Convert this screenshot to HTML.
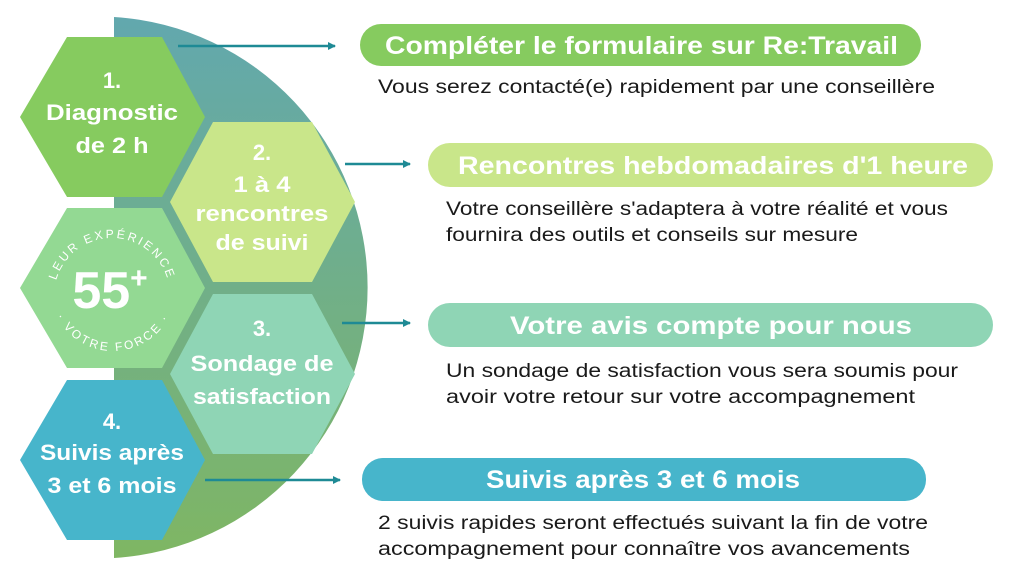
<!DOCTYPE html>
<html><head><meta charset="utf-8"><style>
html,body{margin:0;padding:0;background:#fff;}
svg{display:block;}
text{font-family:"Liberation Sans",sans-serif;}
</style></head><body>
<svg width="1024" height="576" viewBox="0 0 1024 576" xmlns="http://www.w3.org/2000/svg">
<defs>
<linearGradient id="g" x1="0" y1="0" x2="0" y2="1">
<stop offset="0" stop-color="#62a8ae"/><stop offset="1" stop-color="#7fb663"/>
</linearGradient>
<marker id="ah" markerWidth="8" markerHeight="8" refX="7" refY="4" orient="auto" markerUnits="userSpaceOnUse">
<path d="M0,0 L8,4 L0,8 z" fill="#1e8a95"/></marker>
<path id="arcTop" d="M 54,296 A 58,58 0 0 1 170,296"/>
<path id="arcBot" d="M 50,288 A 63,63 0 0 0 176,288"/>
</defs>
<path d="M114,17 A270,271 0 0 1 114,558 Z" fill="url(#g)"/>
<polygon points="20,117 67,37 162,37 205,117 162,197 67,197" fill="#86cb5f"/>
<polygon points="170,202 213,122 312,122 355,202 312,282 213,282" fill="#c9e68a"/>
<polygon points="20,288 67,208 162,208 205,288 162,368 67,368" fill="#93d993"/>
<polygon points="170,374 213,294 312,294 355,374 312,454 213,454" fill="#8fd5b5"/>
<polygon points="20,460 67,380 162,380 205,460 162,540 67,540" fill="#47b5cb"/>
<g fill="#fff" font-weight="bold" font-size="22" text-anchor="middle">
<text x="112" y="88">1.</text>
<text x="112" y="120" textLength="132" lengthAdjust="spacingAndGlyphs">Diagnostic</text>
<text x="112" y="153" textLength="73" lengthAdjust="spacingAndGlyphs">de 2 h</text>
<text x="262" y="160">2.</text>
<text x="262" y="192" textLength="57" lengthAdjust="spacingAndGlyphs">1 à 4</text>
<text x="262" y="221" textLength="133" lengthAdjust="spacingAndGlyphs">rencontres</text>
<text x="262" y="250" textLength="93" lengthAdjust="spacingAndGlyphs">de suivi</text>
<text x="262" y="336">3.</text>
<text x="262" y="371" textLength="143" lengthAdjust="spacingAndGlyphs">Sondage de</text>
<text x="262" y="404" textLength="138" lengthAdjust="spacingAndGlyphs">satisfaction</text>
<text x="112" y="429">4.</text>
<text x="112" y="460" textLength="144" lengthAdjust="spacingAndGlyphs">Suivis après</text>
<text x="112" y="493" textLength="129" lengthAdjust="spacingAndGlyphs">3 et 6 mois</text>
<text x="110" y="308" font-size="52">55<tspan font-size="30" dy="-20">+</tspan></text>
</g>
<g fill="#fff" font-size="12" letter-spacing="2.5">
<text><textPath href="#arcTop" startOffset="50%" text-anchor="middle">LEUR EXPÉRIENCE</textPath></text>
<text><textPath href="#arcBot" startOffset="50%" text-anchor="middle">· VOTRE FORCE ·</textPath></text>
</g>
<g stroke="#1e8a95" stroke-width="2.5" marker-end="url(#ah)">
<line x1="178" y1="46" x2="335" y2="46"/>
<line x1="345" y1="164" x2="410" y2="164"/>
<line x1="342" y1="323" x2="410" y2="323"/>
<line x1="205" y1="480" x2="340" y2="480"/>
</g>
<rect x="360" y="24" width="561" height="42" rx="21" fill="#86cb5f"/>
<rect x="428" y="143" width="565" height="44" rx="22" fill="#c9e68a"/>
<rect x="428" y="303" width="565" height="44" rx="22" fill="#8fd5b5"/>
<rect x="362" y="458" width="564" height="43" rx="21" fill="#47b5cb"/>
<g fill="#fff" font-weight="bold" font-size="25">
<text x="385" y="54" textLength="513" lengthAdjust="spacingAndGlyphs">Compléter le formulaire sur Re:Travail</text>
<text x="458" y="174" textLength="510" lengthAdjust="spacingAndGlyphs">Rencontres hebdomadaires d'1 heure</text>
<text x="510" y="334" textLength="402" lengthAdjust="spacingAndGlyphs">Votre avis compte pour nous</text>
<text x="486" y="488" textLength="314" lengthAdjust="spacingAndGlyphs">Suivis après 3 et 6 mois</text>
</g>
<g fill="#1a1a1a" font-size="19">
<text x="378" y="93" textLength="557" lengthAdjust="spacingAndGlyphs">Vous serez contacté(e) rapidement par une conseillère</text>
<text x="446" y="215" textLength="502" lengthAdjust="spacingAndGlyphs">Votre conseillère s'adaptera à votre réalité et vous</text>
<text x="446" y="241" textLength="412" lengthAdjust="spacingAndGlyphs">fournira des outils et conseils sur mesure</text>
<text x="446" y="377" textLength="512" lengthAdjust="spacingAndGlyphs">Un sondage de satisfaction vous sera soumis pour</text>
<text x="446" y="403" textLength="469" lengthAdjust="spacingAndGlyphs">avoir votre retour sur votre accompagnement</text>
<text x="378" y="529" textLength="550" lengthAdjust="spacingAndGlyphs">2 suivis rapides seront effectués suivant la fin de votre</text>
<text x="378" y="555" textLength="532" lengthAdjust="spacingAndGlyphs">accompagnement pour connaître vos avancements</text>
</g>
</svg>
</body></html>
